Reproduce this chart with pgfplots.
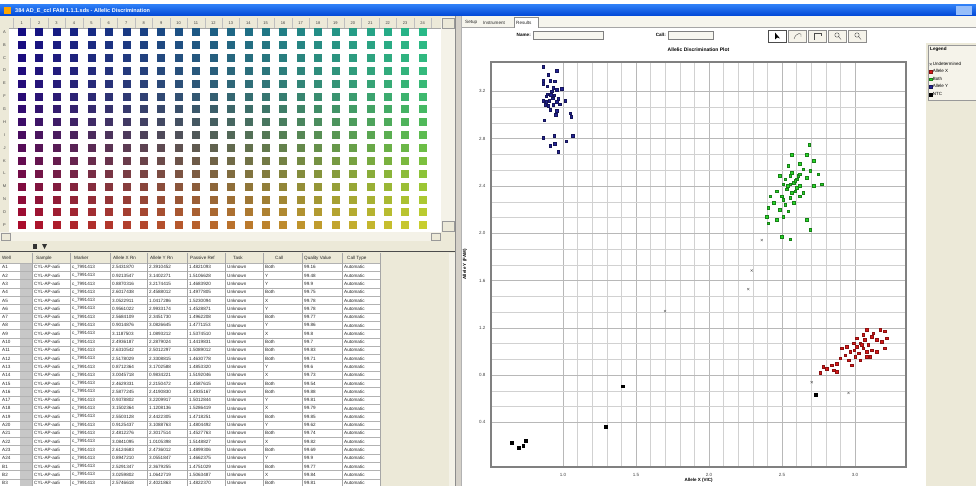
\documentclass[border=0pt]{standalone}
\usepackage{pgfplots}
\usepackage{pgfplotstable}
\pgfplotsset{compat=1.18}
\usepackage{fontspec}
\setmainfont{Liberation Sans}
\definecolor{xpbeige}{RGB}{236,233,216}
\definecolor{xpbeigeD}{RGB}{212,208,200}
\definecolor{xpblue}{RGB}{0,70,213}
\definecolor{xpblueL}{RGB}{45,125,245}
\definecolor{ptblue}{RGB}{35,35,150}
\definecolor{ptgreen}{RGB}{40,215,40}
\definecolor{ptred}{RGB}{215,25,25}
\pgfplotsset{
 colormap={r1}{rgb255=(20,12,130) rgb255=(40,185,135)},
 colormap={r2}{rgb255=(24,12,128) rgb255=(44,185,132)},
 colormap={r3}{rgb255=(28,12,126) rgb255=(48,185,128)},
 colormap={r4}{rgb255=(32,12,124) rgb255=(52,185,124)},
 colormap={r5}{rgb255=(36,12,122) rgb255=(56,185,118)},
 colormap={r6}{rgb255=(42,12,118) rgb255=(62,185,110)},
 colormap={r7}{rgb255=(50,12,112) rgb255=(70,185,100)},
 colormap={r8}{rgb255=(60,12,104) rgb255=(80,185,90)},
 colormap={r9}{rgb255=(72,12,96) rgb255=(92,188,80)},
 colormap={r10}{rgb255=(86,12,88) rgb255=(108,190,70)},
 colormap={r11}{rgb255=(100,12,80) rgb255=(124,192,62)},
 colormap={r12}{rgb255=(114,12,72) rgb255=(140,195,56)},
 colormap={r13}{rgb255=(128,12,64) rgb255=(156,198,52)},
 colormap={r14}{rgb255=(142,12,56) rgb255=(172,200,50)},
 colormap={r15}{rgb255=(156,12,50) rgb255=(186,203,48)},
 colormap={r16}{rgb255=(170,12,44) rgb255=(200,206,46)},
}
\pgfplotstableread{
c  d
1  0
2  0
3  0
4  0
5  0
6  0
7  0
8  0
9  0
10 0
11 0
12 0
13 0
14 0
15 0
16 0
17 0
18 0
19 0
20 0
21 0
22 0
23 0
24 0
}\platecols
\begin{document}
\begin{tikzpicture}[x=1pt,y=-1pt,font=\fontsize{5}{6}\selectfont,
  tab/.style={anchor=west,inner sep=0pt,font=\fontsize{4.6}{5}\selectfont,text=black!85}]
\useasboundingbox (0,0) rectangle (976,486);
\fill[white] (0,0) rectangle (976,486);
% title bar
\shade[top color=xpblueL, bottom color=xpblue] (0,5) rectangle (976,16);
\fill[orange!70!yellow] (4,7.5) rectangle (11,14);
\node[anchor=west,text=white,font=\bfseries\fontsize{5.5}{6}\selectfont,inner sep=0pt] at (15,10.5) {384 AD\_E\_ccl FAM 1.1.1.sds - Allelic Discrimination};
\fill[xpblueL!50!white] (956,6.5) rectangle (972,15);
% ---------- left window ----------
\fill[xpbeige] (0,16) rectangle (455,486);
\fill[white] (9,28) rectangle (441,232);
\draw[black!35] (9,28) -- (441,28);
\foreach \c in {1,...,24} \node[inner sep=0pt,font=\fontsize{4}{4}\selectfont,text=black!75] at ({21.7+17.43*(\c-1)},23) {\c};
\foreach \c in {1,...,25} \draw[black!25] ({13+17.43*(\c-1)},18) -- ({13+17.43*(\c-1)},28);
\foreach \l [count=\r] in {A,...,P} \node[inner sep=0pt,font=\fontsize{4}{4}\selectfont,text=black!75] at (4.5,{32+12.87*(\r-1)}) {\l};
% plate scrollbars
\fill[xpbeige!60!white] (441,17) rectangle (455,232);
\draw[black!40,fill=xpbeige] (442,18) rectangle (454,28);
\draw[black!40,fill=xpbeige] (442,221) rectangle (454,231);
\fill[xpbeige!60!white] (0,232) rectangle (441,241);
\draw[black!40,fill=xpbeige] (431,233) rectangle (440,240.5);
\draw[black!40,fill=xpbeige] (1,233) rectangle (10,240.5);
\fill[black!80] (33,244) rectangle (37,249);
\fill[black!80] (42,244) -- (47,244) -- (44.5,249) -- cycle;
\draw[black!70,line width=1.2pt] (0,251.5) -- (455,251.5);
% table
\fill[white] (0,263) rectangle (380,486);
\fill[xpbeige] (0,252.5) rectangle (380,263);
\fill[black!22] (20,263) rectangle (32,486);
\foreach \k in {0,...,27} \draw[black!30,line width=0.4pt] (0,{263+8.3*\k}) -- (380,{263+8.3*\k});
\foreach \xx in {32,70,110,147,187,225,263,302,342,380} \draw[black!35,line width=0.4pt] (\xx,252.5) -- (\xx,486);
\node[tab] at (2,258) {Well};
\node[tab] at (36,258) {Sample};
\node[tab] at (74,258) {Marker};
\node[tab] at (113,258) {Allele X Rn};
\node[tab] at (150,258) {Allele Y Rn};
\node[tab] at (190,258) {Passive Ref};
\node[tab] at (233,258) {Task};
\node[tab] at (275,258) {Call};
\node[tab] at (304,258) {Quality Value};
\node[tab] at (347,258) {Call Type};
\foreach \w/\xr/\yr/\pr/\cl/\q [count=\i from 0] in {
 A1/2.5431870/2.3910452/1.4821093/Both/99.16,
 A2/0.9213547/3.1402271/1.5106628/Y/99.48,
 A3/0.8870316/3.2174415/1.4683920/Y/99.9,
 A4/2.6017438/2.4588012/1.4977805/Both/99.75,
 A5/3.0522911/1.0417286/1.5230094/X/99.78,
 A6/0.9561022/2.9933174/1.4528871/Y/99.78,
 A7/2.5684109/2.3451730/1.4962208/Both/99.77,
 A8/0.9014876/3.0826645/1.4771153/Y/99.86,
 A9/3.1187503/1.0893212/1.5374510/X/99.8,
 A10/2.4936187/2.2879024/1.4419831/Both/99.7,
 A11/2.6310542/2.5012297/1.5089012/Both/99.83,
 A12/2.5178029/2.3308815/1.4630778/Both/99.71,
 A13/0.8712364/3.1702588/1.4853320/Y/99.6,
 A14/3.0045718/0.9834221/1.5192046/X/99.73,
 A15/2.4629331/2.2150472/1.4587615/Both/99.54,
 A16/2.5877245/2.4190830/1.4935167/Both/99.88,
 A17/0.9378802/3.2209917/1.5012844/Y/99.81,
 A18/3.1502364/1.1208136/1.5286419/X/99.79,
 A19/2.5503128/2.4422305/1.4718251/Both/99.85,
 A20/0.9125437/3.1088763/1.4804492/Y/99.62,
 A21/2.4812276/2.3017514/1.4527763/Both/99.74,
 A22/3.0841095/1.0105398/1.5148827/X/99.82,
 A23/2.6124683/2.4736012/1.4899306/Both/99.69,
 A24/0.8947210/3.0551847/1.4662375/Y/99.9,
 B1/2.5291347/2.3679255/1.4751029/Both/99.77,
 B2/3.0259802/1.0642719/1.5063487/X/99.84,
 B3/2.5746618/2.4021863/1.4822370/Both/99.81}{
  \pgfmathsetmacro\yy{267.3+8.3*\i}
  \node[tab] at (2,\yy) {\w};
  \node[tab] at (34,\yy) {CYL-AP-aa5};
  \node[tab] at (72,\yy) {c\_7991413};
  \node[tab] at (112,\yy) {\xr};
  \node[tab] at (149,\yy) {\yr};
  \node[tab] at (189,\yy) {\pr};
  \node[tab] at (227,\yy) {Unknown};
  \node[tab] at (265,\yy) {\cl};
  \node[tab] at (304,\yy) {\q};
  \node[tab] at (344,\yy) {Automatic};
}
\fill[xpbeige!60!white] (449,252.5) rectangle (455,486);
% divider
\fill[xpbeigeD] (455,16) rectangle (462,486);
\draw[black!45] (455.5,16) -- (455.5,486);
\draw[black!30] (461.5,16) -- (461.5,486);
% ---------- right window ----------
\fill[xpbeige!45!white] (462,16) rectangle (976,28);
\draw[black!35] (462,27.5) -- (976,27.5);
\fill[white] (514,17) rectangle (538,28);
\draw[black!45] (514,28) -- (514,17) -- (538,17) -- (538,28);
\node[tab] at (465,22.5) {Setup};
\node[tab] at (483,22.5) {Instrument};
\node[tab] at (516,22.5) {Results};
\node[anchor=east,inner sep=0pt,font=\bfseries\fontsize{4.6}{5}\selectfont] at (531,35) {Name:};
\draw[black!50,fill=xpbeige!40!white] (533,31) rectangle (603,39);
\node[anchor=east,inner sep=0pt,font=\bfseries\fontsize{4.6}{5}\selectfont] at (666,35) {Call:};
\draw[black!50,fill=xpbeige!40!white] (668,31) rectangle (713,39);
\foreach \b in {0,...,4} \draw[black!45,fill=xpbeige!55!white] ({768+20*\b},30) rectangle ({786+20*\b},42);
\draw[black!70,fill=white] (768,30) rectangle (786,42);
\fill[black] (775,32.5) -- (775,39.5) -- (777,37.5) -- (780,38.5) -- cycle;
\draw[black!70] (794,39) .. controls (796,32) and (803,32) .. (801,37);
\draw[black!70] (814,40) -- (814,33) -- (821,33) -- (821,36);
\draw[black!70] (837,35) circle (2.2); \draw[black!70] (838.6,36.6) -- (841,39.5);
\draw[black!70] (857,35) circle (2.2); \draw[black!70] (858.6,36.6) -- (861,39.5);
% legend panel
\fill[xpbeige] (926,43) rectangle (976,486);
\draw[black!40,fill=xpbeige!55!white] (928,45) rectangle (985,100);
\node[anchor=west,inner sep=0pt,font=\bfseries\fontsize{4.6}{5}\selectfont] at (930,49) {Legend};
% ---------- plate axis ----------
\begin{axis}[at={(12.98pt,-231.4pt)}, anchor=south west,
  width=418.3pt, height=205.9pt, scale only axis,
  xmin=0.5, xmax=24.5, ymin=0.5, ymax=16.5, y dir=reverse,
  axis lines=none, clip=false,
  point meta min=1, point meta max=24]
\pgfplotsinvokeforeach{1,...,16}{
  \addplot[scatter, only marks, mark=square*, mark size=3.5pt, colormap name=r#1,
    point meta=x, scatter/use mapped color={draw=mapped color, fill=mapped color}]
    table[x=c, y expr=#1] {\platecols};
}
\end{axis}
% ---------- scatter axis ----------
\begin{axis}[at={(491pt,-467pt)}, anchor=south west,
  width=415pt, height=405pt, scale only axis,
  xmin=0.507, xmax=3.349, ymin=0.022, ymax=3.449,
  xtick={1,1.5,2,2.5,3}, xticklabels={1.0,1.5,2.0,2.5,3.0},
  ytick={0.4,0.8,1.2,1.6,2.0,2.4,2.8,3.2}, yticklabels={0.4,0.8,1.2,1.6,2.0,2.4,2.8,3.2},
  minor x tick num=4, minor y tick num=2,
  grid=both,
  major grid style={draw=black!28, line width=0.5pt},
  minor grid style={draw=black!18, line width=0.45pt},
  major tick length=0pt, minor tick length=0pt,
  axis line style={draw=black!50, line width=1.3pt},
  tick label style={font=\fontsize{4.5}{5}\selectfont, text=black!75},
  yticklabel style={xshift=-2pt}, xticklabel style={yshift=-3pt},
  title={Allelic Discrimination Plot},
  title style={font=\bfseries\fontsize{5}{6}\selectfont, at={(0.5,1)}, anchor=center, yshift=6pt},
  xlabel={Allele X (VIC)}, ylabel={Allele Y (FAM)},
  label style={font=\bfseries\fontsize{4.5}{5}\selectfont},
  xlabel style={at={(axis description cs:0.5,-0.032)}, anchor=center},
  ylabel style={at={(axis description cs:-0.063,0.5)}, anchor=center},
  legend style={at={(axis description cs:1.0555,1.003)}, anchor=north west, draw=none, fill=none,
    font=\fontsize{4.5}{5}\selectfont, row sep=1.2pt, inner sep=0pt,
    nodes={inner sep=0.8pt}},
  legend cell align=left,
  legend image code/.code={\draw[#1] plot coordinates {(0.06cm,0cm)};},
]
\addplot[only marks, mark=x, mark size=1.5pt, draw=black!60, line width=0.4pt] coordinates {
 (1.699,1.341) (2.292,1.685) (2.269,1.527) (2.703,0.740) (2.955,0.649) (2.361,1.942)};
\addlegendentry{Undetermined}
\addplot[only marks, mark=square*, mark size=1.3pt, draw=ptred!65!black, fill=ptred] coordinates {
 (3.080,1.184) (3.171,1.184) (3.205,1.170) (3.125,1.155) (3.057,1.141) (3.114,1.127)
 (3.217,1.112) (3.011,1.112) (3.068,1.098) (3.148,1.098) (3.183,1.084) (3.034,1.070)
 (2.989,1.070) (3.091,1.055) (3.205,1.027) (2.943,1.041) (3.011,1.041) (3.057,1.027)
 (2.909,1.027) (3.114,1.012) (3.148,0.998) (2.966,0.998) (3.023,0.984) (2.932,0.969)
 (3.000,0.955) (3.080,0.955) (3.103,0.955) (2.897,0.941) (2.955,0.926) (3.034,0.926)
 (2.874,0.898) (2.977,0.884) (2.840,0.884) (2.783,0.869) (2.806,0.855) (2.852,0.841)
 (2.874,0.826) (2.761,0.821) (3.046,1.055) (2.993,1.012) (3.080,0.998)};
\addlegendentry{Allele X}
\addplot[only marks, mark=square*, mark size=1.3pt, draw=ptgreen!60!black, fill=ptgreen] coordinates {
 (2.687,2.749) (2.566,2.663) (2.669,2.663) (2.715,2.615) (2.623,2.586) (2.543,2.572)
 (2.646,2.543) (2.692,2.529) (2.749,2.500) (2.486,2.486) (2.555,2.486) (2.612,2.486)
 (2.669,2.472) (2.772,2.414) (2.509,2.414) (2.578,2.429) (2.623,2.400) (2.715,2.400)
 (2.463,2.357) (2.532,2.371) (2.589,2.357) (2.646,2.343) (2.418,2.314) (2.498,2.314)
 (2.555,2.300) (2.623,2.314) (2.441,2.257) (2.521,2.243) (2.578,2.257) (2.406,2.214)
 (2.486,2.200) (2.543,2.185) (2.395,2.142) (2.463,2.114) (2.509,2.142) (2.406,2.085)
 (2.669,2.114) (2.692,2.028) (2.498,1.971) (2.555,1.948) (2.601,2.457) (2.566,2.514)
 (2.521,2.457) (2.537,2.400) (2.601,2.386) (2.589,2.443) (2.555,2.414) (2.623,2.500)
 (2.566,2.343) (2.509,2.286)};
\addlegendentry{Both}
\addplot[only marks, mark=square*, mark size=1.3pt, draw=ptblue!60!black, fill=ptblue] coordinates {
 (0.865,3.407) (0.957,3.373) (0.900,3.344) (0.865,3.293) (0.911,3.293) (0.945,3.287)
 (0.865,3.264) (0.934,3.230) (0.957,3.215) (0.991,3.221) (0.893,3.178) (0.916,3.173)
 (0.941,3.167) (0.865,3.121) (0.884,3.115) (0.906,3.121) (0.929,3.144) (0.968,3.138)
 (1.014,3.121) (0.877,3.087) (0.900,3.081) (0.934,3.087) (0.979,3.092) (0.911,3.044)
 (0.957,3.035) (0.952,3.001) (1.048,3.015) (1.055,2.987) (0.870,2.958) (0.865,2.806)
 (0.941,2.823) (1.021,2.778) (1.066,2.823) (0.911,2.743) (0.945,2.758) (0.968,2.692)
 (0.884,3.158) (0.922,3.201) (0.893,3.244) (0.957,3.115)};
\addlegendentry{Allele Y}
\addplot[only marks, mark=square*, mark size=1.4pt, draw=black, fill=black] coordinates {
 (0.648,0.231) (0.694,0.183) (0.728,0.203) (0.747,0.245) (1.409,0.706) (1.295,0.360) (2.733,0.632)};
\addlegendentry{NTC}
\end{axis}
\end{tikzpicture}
\end{document}
